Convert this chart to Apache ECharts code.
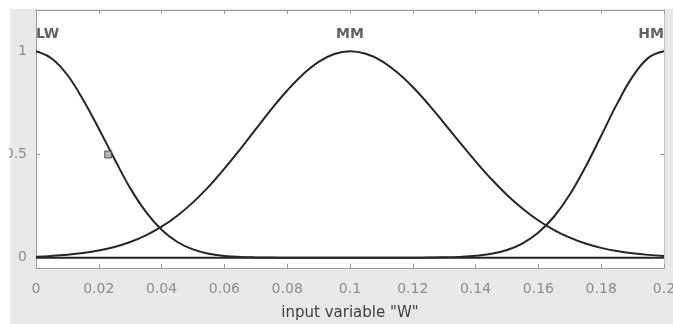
<!DOCTYPE html>
<html>
<head>
<meta charset="utf-8">
<script src="https://cdn.jsdelivr.net/npm/echarts@6/dist/echarts.min.js"></script>
<style>
html,body{margin:0;padding:0;background:#ffffff;}
#wrap{position:relative;width:673px;height:324px;background:#ffffff;overflow:hidden;}
#gray{position:absolute;left:10px;top:9px;right:0;bottom:0;background:#e8e8e8;}
#chart{position:absolute;left:0;top:0;width:673px;height:324px;}
#maskL{position:absolute;left:0;top:0;width:9px;height:324px;background:#ffffff;}
#maskT{position:absolute;left:0;top:0;width:673px;height:8px;background:#ffffff;}
</style>
</head>
<body>
<div id="wrap"><div id="gray"></div><div id="chart"></div><div id="maskL"></div><div id="maskT"></div></div>
<script>
// x sample positions (input variable W)
const xVals = [0,0.005,0.01,0.015,0.02,0.025,0.03,0.035,0.04,0.045,0.05,0.055,0.06,0.065,0.07,0.075,0.08,0.085,0.09,0.095,0.1,
  0.105,0.11,0.115,0.12,0.125,0.13,0.135,0.14,0.145,0.15,0.155,0.16,0.165,0.17,0.175,0.18,0.185,0.19,0.195,0.2];
// membership values
const lwVals = [1,0.965,0.885,0.765,0.625,0.478,0.337,0.222,0.135,0.076,0.040,0.019,0.0085,0.0035,0.0013,0.0004,
  0,0,0,0,0,0,0,0,0,0,0,0,0,0,0,0,0,0,0,0,0,0,0,0,0];
const mmVals = [0.005,0.0087,0.0141,0.0223,0.0345,0.0518,0.0758,0.108,0.150,0.2035,0.268,0.344,0.431,0.525,0.623,0.720,0.810,0.888,0.949,0.987,1,
  0.988,0.954,0.898,0.827,0.743,0.651,0.558,0.467,0.381,0.304,0.237,0.180,0.134,0.097,0.0686,0.0475,0.032,0.0211,0.0136,0.0086];
const hmVals = [0,0,0,0,0,0,0,0,0,0,0,0,0,0,0,0,0,0,0,0,0,0,0,0,0,
  0.0006,0.0016,0.0039,0.0088,0.0187,0.0373,0.0697,0.122,0.1995,0.306,0.440,0.591,0.744,0.877,0.968,1];
// MF names and their placement
const mfNames = ['LW','MM','HM'];
const mfCenters = [0,0.1,0.2];
const mfLabelY = 1.08;
// selection marker
const markerX = [0.023];
const markerY = [0.5];
// ticks
const xTicks = [0,0.02,0.04,0.06,0.08,0.1,0.12,0.14,0.16,0.18,0.2];
const xTickLabels = ['0','0.02','0.04','0.06','0.08','0.1','0.12','0.14','0.16','0.18','0.2'];
const yTicks = [0,0.5,1];
const yTickLabels = ['0','0.5','1'];
const xTitle = 'input variable "W"';

const zip = (xs, ys) => xs.map((x, i) => [x, ys[i]]);
const font = 'DejaVu Sans';
const boxColor = '#9a9a9a';
const curveStyle = {color:'#262626', width:2};

function labelFor(v){ const i = xTicks.indexOf(v); return i >= 0 ? xTickLabels[i] : ''; }
function ylabelFor(v){ const i = yTicks.indexOf(v); return i >= 0 ? yTickLabels[i] : ''; }

const chart = echarts.init(document.getElementById('chart'), null, {renderer:'canvas'});
const positions = ['right','inside','left'];
chart.setOption({
  animation:false,
  backgroundColor:'transparent',
  grid:{left:36,right:9,top:10,bottom:56,show:true,backgroundColor:'#ffffff',borderWidth:0,
    outerBoundsMode:'none',containLabel:false},
  xAxis:[{
    type:'value',min:0,max:0.2,position:'bottom',
    axisLine:{show:true,onZero:false,lineStyle:{color:boxColor,width:1}},
    axisTick:{show:true,inside:true,length:4,customValues:xTicks,lineStyle:{color:boxColor}},
    axisLabel:{customValues:xTicks,formatter:labelFor,margin:14,color:'#8c8c8c',fontFamily:font,fontSize:14,hideOverlap:false},
    splitLine:{show:false},
    name:xTitle,nameLocation:'middle',nameGap:38,
    nameTextStyle:{color:'#404040',fontFamily:font,fontSize:15}
  },{
    type:'value',min:0,max:0.2,position:'top',
    axisLine:{show:true,onZero:false,lineStyle:{color:boxColor,width:1}},
    axisTick:{show:true,inside:true,length:4,customValues:xTicks,lineStyle:{color:boxColor}},
    axisLabel:{show:false},splitLine:{show:false}
  }],
  yAxis:[{
    type:'value',min:-0.05,max:1.2,position:'left',
    axisLine:{show:true,onZero:false,lineStyle:{color:boxColor,width:1}},
    axisTick:{show:true,inside:true,length:4,customValues:yTicks,lineStyle:{color:boxColor}},
    axisLabel:{customValues:yTicks,formatter:ylabelFor,margin:9,color:'#8c8c8c',fontFamily:font,fontSize:14},
    splitLine:{show:false}
  },{
    type:'value',min:-0.05,max:1.2,position:'right',
    axisLine:{show:true,onZero:false,lineStyle:{color:'#c4c4c4',width:1}},
    axisTick:{show:true,inside:true,length:4,customValues:yTicks,lineStyle:{color:boxColor}},
    axisLabel:{show:false},splitLine:{show:false}
  }],
  series:[
    {type:'line',name:'LW',data:zip(xVals,lwVals),smooth:0.4,showSymbol:false,lineStyle:curveStyle,z:3},
    {type:'line',name:'MM',data:zip(xVals,mmVals),smooth:0.4,showSymbol:false,lineStyle:curveStyle,z:3},
    {type:'line',name:'HM',data:zip(xVals,hmVals),smooth:0.4,showSymbol:false,lineStyle:curveStyle,z:3},
    {type:'scatter',data:zip(markerX,markerY),symbol:'rect',symbolSize:7,
      itemStyle:{color:'#a0a0a0',borderColor:'#333',borderWidth:1},z:4},
    {type:'scatter',symbolSize:0,z:5,
      data:mfNames.map((n,i)=>({value:[mfCenters[i],mfLabelY],name:n,
        label:{show:true,position:positions[i],distance:0,formatter:n,
          color:'#3a3a3a',fontFamily:font,fontSize:14,fontWeight:'bold'}}))}
  ]
});
</script>
</body>
</html>
